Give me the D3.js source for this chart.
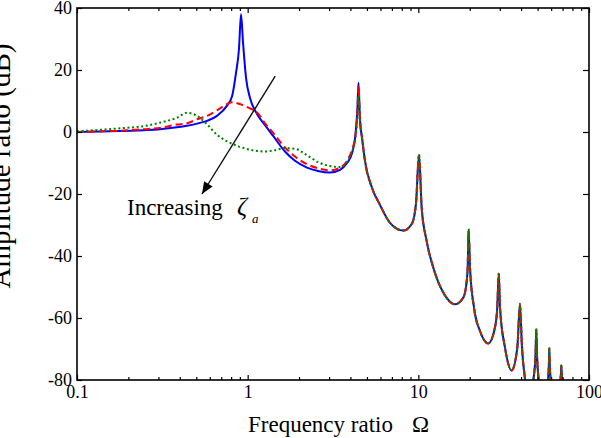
<!DOCTYPE html>
<html>
<head>
<meta charset="utf-8">
<script src="https://cdn.jsdelivr.net/npm/d3@7"></script>
<style>
  html, body { margin: 0; padding: 0; background: #fff; }
  svg { display: block; }
  text { font-family: "Liberation Serif", "DejaVu Serif", "Times New Roman", serif; fill: #000; }
</style>
</head>
<body>
<svg id="chart" width="601" height="438"></svg>
<script>
// ---- data ----
const omega = [0.1, 0.136, 0.179, 0.246, 0.306, 0.385, 0.441, 0.505, 0.578, 0.661,
  0.757, 0.81, 0.854, 0.89, 0.914, 0.939, 0.978, 1.032, 1.135, 1.264,
  1.407, 1.655, 1.893, 2.227, 2.583, 3.037, 3.475, 3.82, 4.09, 4.28,
  4.40, 4.46, 4.55, 4.68, 4.87, 5.35, 5.96, 6.82, 8.17, 9.18,
  9.69, 10.09, 10.46, 11.19, 12.24, 14.0, 16.4, 18.35, 19.2, 19.46,
  19.7, 20.08, 21.2, 22.98, 25.7, 28.1, 29.0, 29.6, 30.1, 32.2,
  35.2, 38.0, 39.4, 40.5, 42.2, 44.5, 47.2, 48.6, 49.1, 49.6,
  50.7, 54, 57.5, 58.2, 58.5, 58.9, 59.6, 64, 67.9, 68.5,
  68.8, 69.2, 69.8, 75];

const dbLowDamping = [0, 0.15, 0.3, 0.6, 0.9, 1.5, 2.0, 2.7, 3.6, 5.2,
  8.5, 11.5, 19, 27, 38, 29, 17.5, 11, 5.8, 2.2,
  -1.2, -6.3, -9.3, -11.5, -12.6, -13.1, -12.2, -10, -6.8, -1,
  8, 15.9, 4, -2, -9.4, -18, -23.5, -29.3, -31.8, -29.5,
  -23, -7.5, -24.4, -35.2, -43.8, -51.8, -55.6, -53.4, -48.1, -43.8,
  -31.7, -43.8, -56.7, -64.2, -68.2, -63.1, -56.7, -45.7, -56.7, -69.6,
  -76.9, -69.6, -55.8, -69.6, -79.8, -88, -80, -72, -63.7, -72,
  -80, -90, -80, -75, -69.8, -75, -80, -92, -80, -78,
  -75.3, -78, -80, -95];

const dbMidDamping = [0, 0.2, 0.4, 0.9, 1.3, 2.4, 2.8, 4.1, 5.2, 7.0,
  9.0, 9.6, 9.4, 9.1, 8.9, 8.6, 8.2, 7.6, 6.3, 2.8,
  -0.2, -5.0, -7.9, -10.4, -11.7, -12.4, -11.5, -9.3, -5.7, -1,
  7.5, 14.8, 4, -2, -9.4, -18, -23.5, -29.3, -31.8, -29.5,
  -23, -7.5, -24.4, -35.2, -43.8, -51.8, -55.6, -53.4, -48.1, -43.8,
  -31.7, -43.8, -56.7, -64.2, -68.2, -63.1, -56.7, -45.7, -56.7, -69.6,
  -76.9, -69.6, -55.8, -69.6, -79.8, -88, -80, -72, -63.7, -72,
  -80, -90, -80, -75, -69.8, -75, -80, -92, -80, -78,
  -75.3, -78, -80, -95];

const dbHighDamping = [0.2, 0.7, 1.2, 1.9, 3.0, 4.6, 6.2, 5.2, 2.5, -0.9,
  -3.0, -3.8, -4.3, -4.7, -4.9, -5.1, -5.4, -5.7, -6.1, -6.3,
  -6.0, -5.2, -5.4, -7.5, -9.7, -11.0, -11.3, -9.6, -6.3, -2,
  5, 11.6, 4, -2, -9.4, -18, -23.5, -29.3, -31.8, -29.5,
  -23, -7.2, -24.4, -35.2, -43.8, -51.8, -55.6, -53.4, -48.1, -43.8,
  -31.2, -43.8, -56.7, -64.2, -68.2, -63.1, -56.7, -45.3, -56.7, -69.6,
  -76.9, -69.6, -55.4, -69.6, -79.8, -88, -80, -72, -63.4, -72,
  -80, -90, -80, -75, -69.5, -75, -80, -92, -80, -78,
  -75.0, -78, -80, -95];

const xTickValues = [0.1, 1, 10, 100];
const xTickLabels = ["0.1", "1", "10", "100"];
const yTickValues = [-80, -60, -40, -20, 0, 20, 40];
const yTickLabels = ["-80", "-60", "-40", "-20", "0", "20", "40"];

const seriesNames = ["low", "mid", "high"];
const seriesColors = ["#0000ff", "#ff0000", "#008000"];
const seriesDash = [null, "7,4", "2,2.6"];

// ---- layout ----
const serif = '"Liberation Serif", "DejaVu Serif", "Times New Roman", serif';
const svg = d3.select("#chart");
const L = 77, R = 589, T = 8, B = 380;

const x = d3.scaleLog().domain([0.1, 100]).range([L, R]);
const y = d3.scaleLinear().domain([-80, 40]).range([B, T]);

svg.append("defs").append("clipPath").attr("id", "plotclip")
  .append("rect").attr("x", L).attr("y", T).attr("width", R - L).attr("height", B - T);

// curves
const seriesData = [dbLowDamping, dbMidDamping, dbHighDamping].map(arr =>
  omega.map((o, i) => ({ o: o, v: arr[i] })));

const line = d3.line().x(d => x(d.o)).y(d => y(d.v)).curve(d3.curveMonotoneX);

const gCurves = svg.append("g").attr("clip-path", "url(#plotclip)");
seriesData.forEach((data, k) => {
  gCurves.append("path")
    .datum(data)
    .attr("d", line)
    .attr("fill", "none")
    .attr("stroke", seriesColors[k])
    .attr("stroke-width", 2)
    .attr("stroke-dasharray", seriesDash[k])
    .attr("stroke-linejoin", "round");
});

// minor tick values
const minorTicks = [];
[0.1, 1, 10].forEach(dec => { for (let m = 2; m <= 9; m++) minorTicks.push(dec * m); });

const fontTick = "18px";

// bottom axis
svg.append("g").attr("transform", `translate(0,${B})`)
  .call(d3.axisBottom(x).tickValues(xTickValues).tickSize(-5).tickPadding(5)
    .tickFormat((d, i) => xTickLabels[i]));
svg.append("g").attr("transform", `translate(0,${B})`)
  .call(d3.axisBottom(x).tickValues(minorTicks).tickSize(-3).tickFormat(""));
// top axis
svg.append("g").attr("transform", `translate(0,${T})`)
  .call(d3.axisTop(x).tickValues(xTickValues).tickSize(-5).tickFormat(""));
svg.append("g").attr("transform", `translate(0,${T})`)
  .call(d3.axisTop(x).tickValues(minorTicks).tickSize(-3).tickFormat(""));
// left axis
svg.append("g").attr("transform", `translate(${L},0)`)
  .call(d3.axisLeft(y).tickValues(yTickValues).tickSize(-5).tickPadding(5)
    .tickFormat((d, i) => yTickLabels[i]));
// right axis
svg.append("g").attr("transform", `translate(${R},0)`)
  .call(d3.axisRight(y).tickValues(yTickValues).tickSize(-6).tickFormat(""));

svg.selectAll(".domain").remove();
svg.selectAll("g").attr("font-family", serif);
svg.selectAll(".tick line").attr("stroke", "#000").attr("stroke-width", 1.2);
svg.selectAll(".tick text")
  .style("font-family", serif)
  .style("font-size", fontTick).attr("fill", "#000");

// frame
svg.append("rect").attr("x", L).attr("y", T).attr("width", R - L).attr("height", B - T)
  .attr("fill", "none").attr("stroke", "#000").attr("stroke-width", 1.6);

// axis titles
svg.append("text")
  .attr("transform", "translate(10,166) rotate(-90)")
  .attr("text-anchor", "middle")
  .style("font-family", serif)
  .style("font-size", "29px")
  .text("Amplitude ratio (dB)");

const xt = svg.append("text").attr("x", 248).attr("y", 432)
  .style("font-family", serif).style("font-size", "23px");
xt.append("tspan").text("Frequency ratio");
xt.append("tspan").attr("x", 412).text("Ω");

// annotation arrow (in data coordinates)
const arrowFrom = { o: 1.45, v: 18 };
const arrowTo = { o: 0.54, v: -20 };
svg.append("defs").append("marker")
  .attr("id", "arrowhead").attr("markerUnits", "userSpaceOnUse")
  .attr("viewBox", "0 0 12 10").attr("refX", 12).attr("refY", 5)
  .attr("markerWidth", 13).attr("markerHeight", 10).attr("orient", "auto")
  .append("path").attr("d", "M0,0 L12,5 L0,10 Z").attr("fill", "#000");

svg.append("line")
  .attr("x1", x(arrowFrom.o)).attr("y1", y(arrowFrom.v))
  .attr("x2", x(arrowTo.o)).attr("y2", y(arrowTo.v))
  .attr("stroke", "#111").attr("stroke-width", 1.4)
  .attr("marker-end", "url(#arrowhead)");

const ann = svg.append("g");
ann.append("text").attr("x", 127).attr("y", 215).style("font-family", serif)
  .style("font-size", "23px").text("Increasing");
ann.append("text").attr("x", 237).attr("y", 215).style("font-family", serif)
  .style("font-size", "25px").style("font-style", "italic").text("ζ");
ann.append("text").attr("x", 252).attr("y", 223).style("font-family", serif)
  .style("font-size", "13px").style("font-style", "italic").text("a");
</script>
</body>
</html>
